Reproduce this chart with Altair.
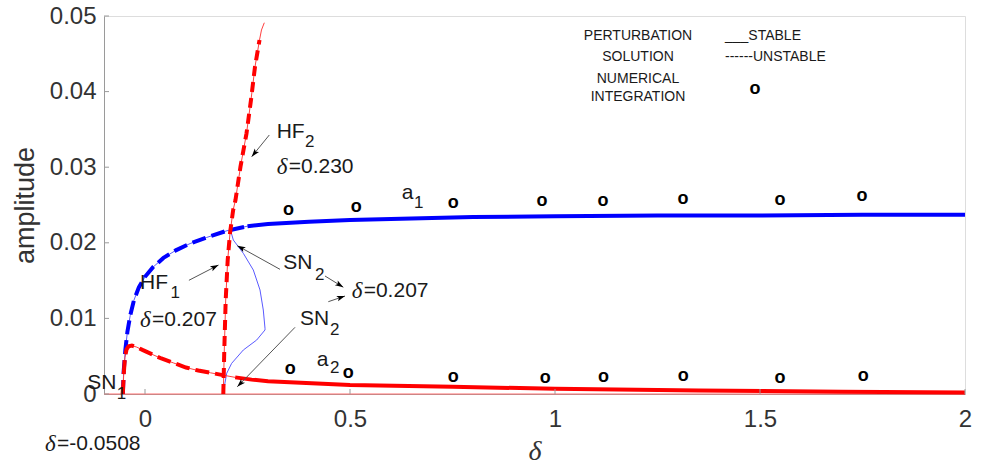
import math
import altair as alt
import pandas as pd

# ---------------- data ----------------
# a1 branch (blue), perturbation solution
a1_delta = [-0.054, -0.052, -0.048, -0.043, -0.036, -0.027, -0.015, 0.0, 0.02, 0.045,
            0.075, 0.11, 0.15, 0.2, 0.25, 0.3, 0.4, 0.5, 0.65, 0.8, 1.0, 1.25, 1.5, 1.75, 2.0]
a1_amp = [0.0, 0.003, 0.0058, 0.0082, 0.0104, 0.0124, 0.0141, 0.0155, 0.0168, 0.0180,
          0.0190, 0.0199, 0.0207, 0.0216, 0.0222, 0.0225, 0.0228, 0.0230, 0.0232, 0.0234,
          0.0235, 0.0236, 0.0236, 0.0237, 0.0237]
# a1 folded branch between the two SN2 points (thin blue)
fold_delta = [0.2073, 0.2154, 0.2398, 0.2642, 0.2805, 0.2885, 0.2927, 0.2927, 0.2724,
              0.2398, 0.2114, 0.1993, 0.1934, 0.1910]
fold_amp = [0.02192, 0.02037, 0.01861, 0.01640, 0.01376, 0.01111, 0.00869, 0.00847,
            0.00714, 0.00582, 0.00406, 0.00274, 0.00097, 0.0]
# a2 branch (red)
a2_delta = [-0.054, -0.052, -0.049, -0.045, -0.040, -0.032, -0.020, -0.005, 0.015, 0.04,
            0.07, 0.1, 0.13, 0.16, 0.19, 0.22, 0.26, 0.3, 0.38, 0.5, 0.75, 1.0, 1.35, 1.7, 2.0]
a2_amp = [0.0, 0.0025, 0.0048, 0.0059, 0.0063, 0.0064, 0.0062, 0.0058, 0.0053, 0.0047,
          0.0041, 0.0035, 0.0031, 0.0028, 0.0025, 0.0022, 0.0019, 0.0017, 0.0015, 0.0012,
          0.00095, 0.0007, 0.00045, 0.0003, 0.0002]
# second a2 branch (steep red)
v_delta = [0.1910, 0.1934, 0.1968, 0.2017, 0.2073, 0.2150, 0.2207, 0.2329, 0.2476,
           0.2585, 0.2683, 0.2793, 0.2841, 0.2910]
v_amp = [0.0, 0.00582, 0.01243, 0.01772, 0.02126, 0.02434, 0.02566, 0.03007, 0.03448,
         0.03889, 0.04329, 0.04683, 0.04815, 0.04911]
# numerical integration
num1_delta = [0.35, 0.515, 0.752, 0.968, 1.117, 1.312, 1.549, 1.749]
num1_amp = [0.0243, 0.02475, 0.02528, 0.02549, 0.02549, 0.02581, 0.02572, 0.02625]
num2_delta = [0.354, 0.496, 0.752, 0.976, 1.118, 1.313, 1.549, 1.752]
num2_amp = [0.00331, 0.0028, 0.00229, 0.00212, 0.00225, 0.00242, 0.00212, 0.00242]

x_ticks = [0, 0.5, 1, 1.5, 2]
y_ticks = [0, 0.01, 0.02, 0.03, 0.04, 0.05]

# annotations: (text, delta, amplitude)
ann_main = [("HF", 0.3212, 0.0347), ("a", 0.6261, 0.02659), ("HF", -0.0122, 0.01464),
            ("SN", 0.3373, 0.01729), ("SN", 0.378, 0.00992), ("a", 0.4188, 0.0045),
            ("SN", -0.1407, 0.00142)]
ann_sub = [("2", 0.3902, 0.03337), ("1", 0.6561, 0.02526), ("1", 0.0622, 0.01332),
           ("2", 0.4146, 0.01574), ("2", 0.4512, 0.00847), ("2", 0.4512, 0.0034),
           ("1", -0.069, 0.0)]
ann_delta = [("=0.230", 0.3212, 0.03003), ("=0.207", -0.0122, 0.00979),
             ("=0.207", 0.5041, 0.01365), ("=-0.0508", -0.2439, -0.00661)]
arrows = [(0.3032, 0.03426, 0.2602, 0.03139), (0.1071, 0.01504, 0.1793, 0.01706),
          (0.3293, 0.01649, 0.2251, 0.01962), (0.4390, 0.01561, 0.4837, 0.01412),
          (0.4471, 0.01221, 0.4878, 0.01296), (0.3659, 0.00882, 0.2251, 0.00096)]
legend_center = [("PERTURBATION", 1.2024, 0.04735), ("SOLUTION", 1.2024, 0.04462),
                 ("NUMERICAL", 1.2024, 0.04167), ("INTEGRATION", 1.2024, 0.03922)]
legend_left = [("___STABLE", 1.4146, 0.04735), ("------UNSTABLE", 1.4146, 0.04458)]
legend_marker = [("o", 1.4878, 0.04034)]

# ---------------- chart ----------------
W, H = 861, 378
XD, YD = [-0.1, 2.0], [0.0, 0.05]
SANS = "Liberation Sans"
SERIF = "Liberation Serif"

xs = alt.Scale(domain=XD, nice=False, zero=False)
ys = alt.Scale(domain=YD, nice=False, zero=False)
x_axis = alt.Axis(values=x_ticks, format="~g", ticks=False, tickSize=0, labelPadding=13,
                  labelFontSize=24, labelFont=SANS, labelColor="#333", labelFlush=False,
                  domainColor="#9a9a9a", grid=False, titleFont=SERIF, titleFontStyle="italic",
                  titleFontSize=28, titleFontWeight="normal", titleColor="#333", titlePadding=6)
y_axis = alt.Axis(values=y_ticks, format="~g", ticks=False, tickSize=0, labelPadding=8,
                  labelFontSize=24, labelFont=SANS, labelColor="#333",
                  domainColor="#9a9a9a", grid=False, titleFont=SANS, titleFontSize=27,
                  titleFontWeight="normal", titleColor="#333", titlePadding=10)


def X(f="d"):
    return alt.X(f"{f}:Q", scale=xs, axis=x_axis, title="δ")


def Y(f="a"):
    return alt.Y(f"{f}:Q", scale=ys, axis=y_axis, title="amplitude")


def frame(ds, amps):
    df = pd.DataFrame({"d": ds, "a": amps})
    df["i"] = range(len(df))
    return df


def line(df, color, width, dash=None):
    kw = dict(color=color, strokeWidth=width, strokeCap="butt", clip=False)
    if dash:
        kw["strokeDash"] = dash
    return alt.Chart(df).mark_line(**kw).encode(x=X(), y=Y(), order=alt.Order("i:Q"))


a1 = frame(a1_delta, a1_amp)
a2 = frame(a2_delta, a2_amp)
fold = frame(fold_delta, fold_amp)
vb = frame(v_delta, v_amp)
zero = frame([XD[0], XD[1]], [0.0, 0.0])

BLUE, RED = "#0000ff", "#ff0000"

layers = [
    line(zero, "#ff7070", 1.2),
    line(a1, "#5a5aff", 1),
    line(fold, "#5a5aff", 1),
    line(a2, "#ff4040", 1),
    line(vb, "#ff4040", 1),
    line(a1[a1.d <= 0.25], BLUE, 4, [14, 6]),
    line(a1[a1.d >= 0.25], BLUE, 4),
    line(a2[a2.d <= 0.19], RED, 4, [14, 6]),
    line(a2[a2.d >= 0.22], RED, 4),
    line(vb[vb.a <= 0.047], RED, 4, [10, 6]),
]

# inward ticks
xt = pd.DataFrame({"d": x_ticks})
yt = pd.DataFrame({"a": y_ticks})
layers.append(alt.Chart(xt).mark_rule(color="#9a9a9a", strokeWidth=1).encode(
    x=X(), y=alt.value(H), y2=alt.value(H - 5)))
layers.append(alt.Chart(yt).mark_rule(color="#9a9a9a", strokeWidth=1).encode(
    y=Y(), x=alt.value(0), x2=alt.value(5)))

# numerical integration markers
num = pd.concat([frame(num1_delta, num1_amp), frame(num2_delta, num2_amp),
                 pd.DataFrame({"d": [m[1] for m in legend_marker], "a": [m[2] for m in legend_marker]})])
layers.append(alt.Chart(num).mark_text(text="o", font=SANS, fontWeight="bold", fontSize=18,
                                       baseline="middle", color="black").encode(x=X(), y=Y()))


def tdf(items):
    return pd.DataFrame({"t": [i[0] for i in items], "d": [i[1] for i in items],
                         "a": [i[2] for i in items]})


def text_layer(items, **kw):
    base = dict(font=SANS, baseline="middle", align="left", color="#1a1a1a")
    base.update(kw)
    return alt.Chart(tdf(items)).mark_text(**base).encode(x=X(), y=Y(), text="t:N")


layers.append(text_layer(ann_main, fontSize=21))
layers.append(text_layer(ann_sub, fontSize=17))
layers.append(text_layer([("δ", r[1], r[2]) for r in ann_delta], font=SERIF,
                         fontStyle="italic", fontSize=23))
layers.append(text_layer(ann_delta, fontSize=21, dx=12))
layers.append(text_layer(legend_center, fontSize=14, align="center"))
layers.append(text_layer(legend_left, fontSize=14))

# arrows
sx = W / (XD[1] - XD[0])
sy = H / (YD[1] - YD[0])
arr = pd.DataFrame(arrows, columns=["d", "a", "d2", "a2"])
arr["ang"] = [math.degrees(math.atan2((r.d2 - r.d) * sx, (r.a2 - r.a) * sy)) % 360
              for r in arr.itertuples()]
layers.append(alt.Chart(arr).mark_rule(color="#555", strokeWidth=1).encode(
    x=X(), y=Y(), x2="d2:Q", y2="a2:Q"))
head = arr[["d2", "a2", "ang"]].rename(columns={"d2": "d", "a2": "a"})
layers.append(alt.Chart(head).mark_point(
    shape="M0,0L-0.45,1.35L0,1.05L0.45,1.35Z", filled=True, color="black", opacity=1,
    size=150).encode(x=X(), y=Y(), angle=alt.Angle("ang:Q", scale=None)))

chart = alt.layer(*layers).properties(
    width=W, height=H,
    padding={"left": 104, "top": 16, "right": 19, "bottom": 73},
    autosize=alt.AutoSizeParams(type="none"),
).configure_view(stroke=None).configure(background="white")

chart.save("out.html", embed_options={"renderer": "svg", "actions": False})
